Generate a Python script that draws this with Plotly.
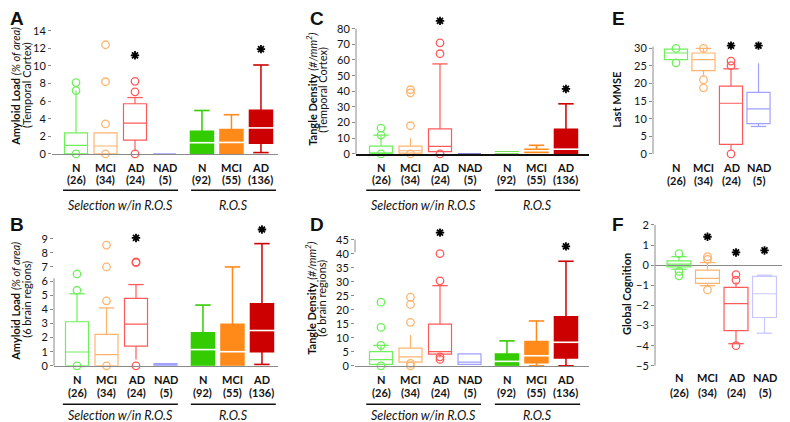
import plotly.graph_objects as go

# ---------------- data ----------------
cats_ros = ["N", "MCI", "AD", "NAD", "N", "MCI", "AD"]
counts_ros = ["(26)", "(34)", "(24)", "(5)", "(92)", "(55)", "(136)"]
cats_cog = ["N", "MCI", "AD", "NAD"]
counts_cog = ["(26)", "(34)", "(24)", "(5)"]
group_labels = ["Selection w/in R.O.S", "R.O.S"]

# Panel A: Amyloid load, temporal cortex
A_q1 = [0, 0, 1.57, 0, 0, 0, 1.2]
A_med = [0.97, 0.9, 3.5, 0, 1.27, 1.3, 2.95]
A_q3 = [2.4, 2.4, 5.7, 0, 2.58, 2.76, 4.95]
A_lo = [0, 0, 0.3, 0, 0, 0, 0.15]
A_hi = [7.2, 2.4, 6.4, 0, 4.93, 4.45, 10.1]
A_caphi = [None, None, 6.4, None, 4.93, 4.45, 10.1]
A_caplo = [None, None, None, None, None, None, 0.15]
A_out = [[8.1, 7.2, 0], [12.4, 8.2, 3.4, 0], [8.25, 7.05, 0], [], [], [], []]
A_star = [None, None, 11.2, None, None, None, 11.9]

# Panel B: Amyloid load, 6 brain regions
B_q1 = [0, 0, 1.4, 0, -0.05, -0.05, 1.0]
B_med = [0.98, 0.8, 2.95, 0.05, 1.15, 1.0, 2.5]
B_q3 = [3.12, 2.23, 4.78, 0.15, 2.35, 2.95, 4.4]
B_lo = [0, 0, 0.45, 0, -0.05, -0.05, 0.1]
B_hi = [5.1, 4.1, 5.75, 0.15, 4.3, 7.0, 8.65]
B_caphi = [5.1, 4.1, 5.75, None, 4.3, 7.0, 8.65]
B_caplo = [None, None, None, None, None, None, 0.1]
B_out = [[6.5, 5.35, 0], [8.55, 7.0, 4.6, 0], [7.35, 7.3, 0], [], [], [], []]
B_star = [None, None, 9.05, None, None, None, 9.65]

# Panel C: Tangle density, temporal cortex
C_q1 = [0, 0.5, 1.5, 0, 0.4, 0.9, 0]
C_med = [0.5, 2, 4.8, 0, 0.8, 2, 3]
C_q3 = [5, 5, 16, 0, 1.2, 3, 15.7]
C_lo = [0, 0.5, 1.5, 0, 0.4, 0.9, 0]
C_hi = [12, 10, 57.5, 0, 1.2, 5.5, 32]
C_caphi = [12, None, 57.5, None, None, 5.5, 32]
C_caplo = [None, None, None, None, None, None, None]
C_out = [[16.5, 12, 0], [41, 39, 18, 0], [71, 64, 0], [], [], [], []]
C_star = [None, None, 85, None, None, None, 41.5]

# Panel D: Tangle density, 6 brain regions
D_q1 = [0.5, 1.3, 4.2, 0.5, 0, 1.1, 2.8]
D_med = [2.2, 3.2, 5.1, 1.3, 1.6, 3.6, 8.4]
D_q3 = [5.1, 6.3, 14.9, 4.3, 4.2, 8.7, 17.5]
D_lo = [0.5, 1.3, 3.0, 0.5, 0, 0, 0]
D_hi = [7.3, 11, 28.6, 4.3, 8.9, 16, 37.3]
D_caphi = [7.3, None, 28.6, None, 8.9, 16, 37.3]
D_caplo = [None, None, None, None, None, 0, 0]
D_out = [[22.7, 13.7, 7.3, 0], [24.5, 21.9, 15.5, 0.9, 0], [40, 30.3, 3.2, 2.3], [], [], [], []]
D_star = [None, None, 47.5, None, None, None, 42.6]

# Panel E: Last MMSE
E_q1 = [26.8, 23.7, 2.7, 8.6]
E_med = [28.7, 26.8, 14.4, 12.8]
E_q3 = [29.8, 28.7, 19.3, 17.5]
E_lo = [26.8, 22.0, 1.2, 7.8]
E_hi = [29.8, 30, 24.2, 25.8]
E_caphi = [None, 30, 24.2, None]
E_caplo = [None, None, None, 7.8]
E_out = [[30, 25.9], [30, 21.1, 18.8], [26.4, 25.1, 0], []]
E_star = [None, None, 30.8, 30.8]

# Panel F: Global cognition
F_q1 = [-0.09, -0.9, -3.25, -2.6]
F_med = [0.05, -0.66, -1.91, -1.42]
F_q3 = [0.21, -0.25, -1.1, -0.56]
F_lo = [-0.2, -1.02, -3.9, -3.38]
F_hi = [0.42, 0.13, -0.85, -0.5]
F_caphi = [0.42, 0.13, None, -0.5]
F_caplo = [-0.2, -1.02, -3.9, -3.38]
F_out = [[0.57, -0.31, -0.53], [0.42, 0.29, -1.23], [-0.47, -0.74, -4.0], []]
F_star = [None, 1.41, 0.63, 0.73]

# ---------------- styling ----------------
W, H = 790, 422
LG, LO, LR, LB = "#6EF05A", "#FFB46E", "#FF5A5A", "#A0A0FF"
DG, DO, DR = "#33CC00", "#FF8A1A", "#CC0000"
ros_colors = [LG, LO, LR, LB, DG, DO, DR]
ros_filled = [False, False, False, False, True, True, True]
cog_colors_E = [LG, LO, LR, LB]
cog_colors_F = [LG, LO, LR, "#C8C8FF"]
ros_pos = [0, 1, 2, 3, 4.27, 5.27, 6.27]
cog_pos = [0, 1, 2, 3]
FONT = "Lato"
AX_GRAY = "#8a8a8a"


def fx(px):
    return px / W


def fy(py):
    return 1 - py / H


fig = go.Figure()
layout = dict(width=W, height=H, margin=dict(l=0, r=0, t=0, b=0),
              paper_bgcolor="white", plot_bgcolor="white", showlegend=False,
              font=dict(family=FONT, color="#111"))
annotations = []
shapes = []


def panel(i, xl, xr, x0px, step, ybot_py, ybot_val, yref_py, yref_val, ytop_py,
          ticks, xline_color=AX_GRAY, xline_w=1, show_xline=True, zeroline=False):
    ppu = (ybot_py - yref_py) / (yref_val - ybot_val)
    sfx = "" if i == 1 else str(i)
    layout["xaxis" + sfx] = dict(
        domain=[fx(xl), fx(xr)], range=[(xl - x0px) / step, (xr - x0px) / step],
        showticklabels=False, ticks="", showgrid=False, zeroline=False,
        showline=show_xline, linecolor=xline_color, linewidth=xline_w,
        anchor="y" + sfx, fixedrange=True)
    layout["yaxis" + sfx] = dict(
        domain=[fy(ybot_py), fy(ytop_py)],
        range=[ybot_val, ybot_val + (ybot_py - ytop_py) / ppu],
        tickvals=ticks, ticks="outside", ticklen=3, tickcolor=AX_GRAY,
        tickfont=dict(size=11, family=FONT, color="#111"),
        showgrid=False, showline=False, zeroline=zeroline,
        zerolinecolor=AX_GRAY, zerolinewidth=1,
        anchor="x" + sfx, fixedrange=True)
    return step


def add_boxes(i, pos, q1, med, q3, lo, hi, caphi, caplo, outs, stars,
              colors, filled, width, step):
    sfx = "" if i == 1 else str(i)
    xa, ya = "x" + sfx, "y" + sfx
    box_px = width * step
    for k, p in enumerate(pos):
        c = colors[k]
        f = filled[k]
        fig.add_trace(go.Box(
            x=[p], q1=[q1[k]], median=[med[k]], q3=[q3[k]],
            lowerfence=[lo[k]], upperfence=[hi[k]], orientation="v",
            width=width, whiskerwidth=0, boxpoints=False,
            fillcolor=c if f else "rgba(255,255,255,0)",
            line=dict(color=c, width=1.5 if f else 1.2),
            xaxis=xa, yaxis=ya, hoverinfo="skip"))
        if f:
            fig.add_trace(go.Scatter(
                x=[p], y=[med[k]], mode="markers", xaxis=xa, yaxis=ya,
                marker=dict(symbol="line-ew", size=box_px - 2, color="white",
                            line=dict(color="white", width=1.6)),
                hoverinfo="skip", cliponaxis=False))
        caps = [v for v in (caphi[k], caplo[k]) if v is not None]
        if caps:
            fig.add_trace(go.Scatter(
                x=[p] * len(caps), y=caps, mode="markers", xaxis=xa, yaxis=ya,
                marker=dict(symbol="line-ew", size=11, color=c,
                            line=dict(color=c, width=1.6 if f else 1.3)),
                hoverinfo="skip", cliponaxis=False))
        if outs[k]:
            fig.add_trace(go.Scatter(
                x=[p] * len(outs[k]), y=outs[k], mode="markers", xaxis=xa, yaxis=ya,
                marker=dict(symbol="circle-open", size=7.5, color=c,
                            line=dict(color=c, width=1.3)),
                hoverinfo="skip", cliponaxis=False))
        if stars[k] is not None:
            fig.add_trace(go.Scatter(
                x=[p], y=[stars[k]], mode="markers", xaxis=xa, yaxis=ya,
                marker=dict(symbol="asterisk-open", size=7, color="black",
                            line=dict(color="black", width=1.8)),
                hoverinfo="skip", cliponaxis=False))


def cat_labels(i, pos, cats, counts, py1, py2):
    sfx = "" if i == 1 else str(i)
    for p, c, n in zip(pos, cats, counts):
        annotations.append(dict(x=p, xref="x" + sfx, y=fy(py1), yref="paper",
                                text="<b>" + c + "</b>", showarrow=False,
                                yanchor="middle",
                                font=dict(size=11, family=FONT, color="#111")))
        annotations.append(dict(x=p, xref="x" + sfx, y=fy(py2), yref="paper",
                                text="<b>" + n + "</b>", showarrow=False,
                                yanchor="middle",
                                font=dict(size=11, family=FONT, color="#111")))


def groups(i, spans, py_line, py_text):
    sfx = "" if i == 1 else str(i)
    for (a, b), lab in zip(spans, group_labels):
        shapes.append(dict(type="line", xref="x" + sfx, yref="paper",
                           x0=a, x1=b, y0=fy(py_line), y1=fy(py_line),
                           line=dict(color="#111", width=1.5)))
        annotations.append(dict(x=(a + b) / 2, xref="x" + sfx, y=fy(py_text),
                                yref="paper", text="<i>" + lab + "</i>",
                                showarrow=False, yanchor="middle",
                                font=dict(size=12.5, family=FONT, color="#111")))


def yline(i, y0, y1):
    sfx = "" if i == 1 else str(i)
    shapes.append(dict(type="line", xref="x" + sfx + " domain", yref="y" + sfx,
                       x0=0, x1=0, y0=y0, y1=y1,
                       line=dict(color=AX_GRAY, width=1)))


def ytitle(px, py, text, size=11):
    annotations.append(dict(x=fx(px), y=fy(py), xref="paper", yref="paper",
                            text=text, textangle=-90, showarrow=False,
                            xanchor="center", yanchor="middle",
                            font=dict(size=size, family=FONT, color="#111")))


def letter(px, py, t):
    annotations.append(dict(x=fx(px), y=fy(py), xref="paper", yref="paper",
                            text="<b>" + t + "</b>", showarrow=False,
                            xanchor="center", yanchor="middle",
                            font=dict(size=19, family="Liberation Sans", color="#111")))


# ---- Panel A ----
sA = panel(1, 44, 270, 68, 29.5, 148, 0, 23, 14, 15, list(range(0, 15, 2)))
add_boxes(1, ros_pos, A_q1, A_med, A_q3, A_lo, A_hi, A_caphi, A_caplo, A_out,
          A_star, ros_colors, ros_filled, 0.78, sA)
cat_labels(1, ros_pos, cats_ros, counts_ros, 162, 174)
groups(1, [(-0.44, 3.46), (3.9, 6.78)], 185, 200)
ytitle(8, 80, "<b>Amyloid Load</b> <i>(% of area)</i>")
ytitle(19, 78, "(Temporal Cortex)")
letter(9, 11, "A")

# ---- Panel B ----
sB = panel(2, 46, 270, 69, 29.5, 363, 0, 234, 9, 220, list(range(0, 10)))
add_boxes(2, ros_pos, B_q1, B_med, B_q3, B_lo, B_hi, B_caphi, B_caplo, B_out,
          B_star, ros_colors, ros_filled, 0.78, sB)
cat_labels(2, ros_pos, cats_ros, counts_ros, 377, 390)
groups(2, [(-0.48, 3.42), (3.86, 6.74)], 402, 413)
yline(2, 0, 6.2)
ytitle(8, 298, "<b>Amyloid Load</b> <i>(% of area)</i>")
ytitle(19, 296, "(6 brain regions)")
letter(9, 220, "B")

# ---- Panel C ----
sC = panel(3, 348, 581, 373, 29.5, 148, 0, 21, 80, 8, list(range(0, 81, 10)),
           xline_color="#111", xline_w=1.5)
add_boxes(3, ros_pos, C_q1, C_med, C_q3, C_lo, C_hi, C_caphi, C_caplo, C_out,
          C_star, ["#6EF05A", LO, LR, "#5A5ACC", DG, DO, DR], ros_filled, 0.78, sC)
cat_labels(3, ros_pos, cats_ros, counts_ros, 162, 174)
groups(3, [(-0.5, 3.39), (3.86, 6.75)], 185, 200)
yline(3, 0, 80)
ytitle(304, 83, "<b>Tangle Density</b> <i>(#/mm<sup>2</sup>)</i>")
ytitle(315, 83, "(Temporal Cortex)")
letter(309, 11, "C")

# ---- Panel D ----
sD = panel(4, 347, 581, 373, 29.5, 363, 0, 235, 45, 222, list(range(0, 46, 5)))
add_boxes(4, ros_pos, D_q1, D_med, D_q3, D_lo, D_hi, D_caphi, D_caplo, D_out,
          D_star, ros_colors, ros_filled, 0.78, sD)
cat_labels(4, ros_pos, cats_ros, counts_ros, 377, 390)
groups(4, [(-0.5, 3.39), (3.86, 6.75)], 402, 413)
yline(4, 40.5, 45)
ytitle(303, 295, "<b>Tangle Density</b> <i>(#/mm<sup>2</sup>)</i>")
ytitle(314, 295, "(6 brain regions)")
letter(309, 220, "D")

# ---- Panel E ----
sE = panel(5, 645, 780, 668, 27.5, 148, 0, 41, 30, 30, list(range(0, 31, 5)),
           show_xline=False)
add_boxes(5, cog_pos, E_q1, E_med, E_q3, E_lo, E_hi, E_caphi, E_caplo, E_out,
          E_star, cog_colors_E, [False] * 4, 0.84, sE)
cat_labels(5, cog_pos, cats_cog, counts_cog, 162, 175)
yline(5, 0, 30.5)
ytitle(609, 93, "<b>Last MMSE</b>")
letter(610, 11, "E")

# ---- Panel F ----
sF = panel(6, 647, 790, 671, 28.5, 363, -5, 220, 2, 212, list(range(-5, 3)),
           show_xline=False, zeroline=True)
add_boxes(6, cog_pos, F_q1, F_med, F_q3, F_lo, F_hi, F_caphi, F_caplo, F_out,
          F_star, cog_colors_F, [False] * 4, 0.84, sF)
cat_labels(6, cog_pos, cats_cog, counts_cog, 375, 390)
yline(6, -5, 2)
ytitle(619, 290, "<b>Global Cognition</b>")
letter(610, 220, "F")

layout["annotations"] = annotations
layout["shapes"] = shapes
fig.update_layout(**layout)
fig.write_html("out.html")
